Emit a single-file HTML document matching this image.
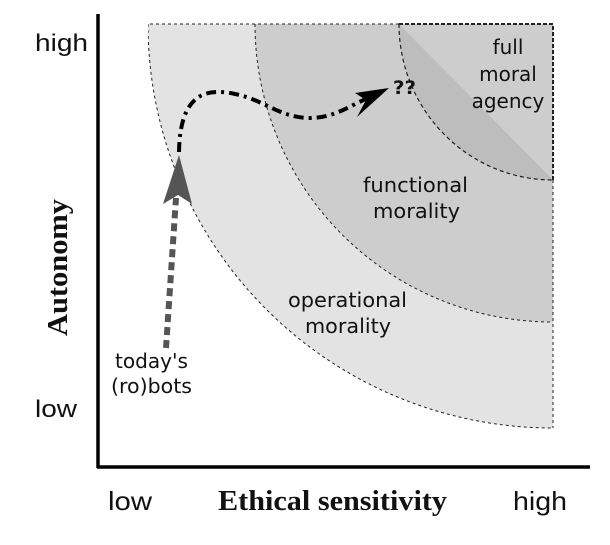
<!DOCTYPE html>
<html><head><meta charset="utf-8"><style>
body{margin:0;background:#fff;width:610px;height:545px;overflow:hidden}
svg{display:block}
.s{font-family:"DejaVu Sans","Liberation Sans",sans-serif;fill:#111}
.a{font-family:"Liberation Sans",sans-serif;fill:#111}
.b{font-family:"Liberation Serif",serif;font-weight:bold;fill:#111}
</style></head><body>
<svg width="610" height="545">
<defs>
<clipPath id="box"><rect x="148" y="24" width="405" height="405"/></clipPath>
</defs>
<g clip-path="url(#box)">
<path d="M553,24 L148,24 A405,404 0 0 0 553,428 Z" fill="#e3e3e3"/>
<path d="M148,24 A405,404 0 0 0 553,428" fill="none" stroke="#222" stroke-width="1" stroke-dasharray="3,3"/>
<path d="M553,24 L255,24 A298,298 0 0 0 553,322 Z" fill="#cdcdcd"/>
<path d="M255,24 A298,298 0 0 0 553,322" fill="none" stroke="#222" stroke-width="1" stroke-dasharray="3,3"/>
<path d="M399,24 A154,156 0 0 0 553,180 Z" fill="#bdbdbd"/>
<path d="M399,24 A154,156 0 0 0 553,180" fill="none" stroke="#222" stroke-width="1.2" stroke-dasharray="4,3"/>
</g>
<path d="M399,24 L553,24 L553,180" fill="none" stroke="#222" stroke-width="2" stroke-dasharray="4,2"/>
<line x1="553" y1="180" x2="553" y2="428" stroke="#222" stroke-width="1" stroke-dasharray="3,3"/>
<line x1="399" y1="24" x2="148" y2="24" stroke="#222" stroke-width="1" stroke-dasharray="3,3"/>
<line x1="98" y1="14" x2="98" y2="468" stroke="#000" stroke-width="3.5"/>
<line x1="97" y1="467" x2="590" y2="467" stroke="#000" stroke-width="3.5"/>
<line x1="166" y1="348" x2="176" y2="198" stroke="#555" stroke-width="6" stroke-dasharray="8,5"/>
<path d="M179,155 L163,204 L178,195 L192,204 Z" fill="#555"/>
<path d="M179,152 C180,100 200,86 235,94 C265,100 280,118 310,118 C335,118 350,105 375,95" fill="none" stroke="#000" stroke-width="4" stroke-dasharray="10,5,3,5"/>
<path d="M389,88 L355,93 L366,100 L357,117 Z" fill="#000"/>
<text class="s" x="393" y="94" font-size="19" font-weight="bold" textLength="23" lengthAdjust="spacingAndGlyphs">??</text>
<text class="s" font-size="20" text-anchor="middle"><tspan x="508" y="54">full</tspan><tspan x="508" y="81">moral</tspan><tspan x="508" y="108">agency</tspan></text>
<text class="s" font-size="20"><tspan x="363" y="192" textLength="105" lengthAdjust="spacingAndGlyphs">functional</tspan><tspan x="373" y="218" textLength="87" lengthAdjust="spacingAndGlyphs">morality</tspan></text>
<text class="s" font-size="20"><tspan x="288" y="307" textLength="119" lengthAdjust="spacingAndGlyphs">operational</tspan><tspan x="305" y="333" textLength="86" lengthAdjust="spacingAndGlyphs">morality</tspan></text>
<text class="s" font-size="20"><tspan x="115" y="368" textLength="73" lengthAdjust="spacingAndGlyphs">today's</tspan><tspan x="111" y="393" textLength="81" lengthAdjust="spacingAndGlyphs">(ro)bots</tspan></text>
<text class="a" font-size="24" x="35" y="51" textLength="53" lengthAdjust="spacingAndGlyphs">high</text>
<text class="a" font-size="24" x="35" y="417" textLength="42" lengthAdjust="spacingAndGlyphs">low</text>
<text class="b" font-size="28" transform="translate(67,268) rotate(-90)" x="-68" y="0" textLength="137" lengthAdjust="spacingAndGlyphs">Autonomy</text>
<text class="a" font-size="26" x="108" y="510" textLength="44" lengthAdjust="spacingAndGlyphs">low</text>
<text class="b" font-size="28" x="218" y="510" textLength="229" lengthAdjust="spacingAndGlyphs">Ethical sensitivity</text>
<text class="a" font-size="26" x="513" y="510" textLength="54" lengthAdjust="spacingAndGlyphs">high</text>
</svg>
</body></html>
